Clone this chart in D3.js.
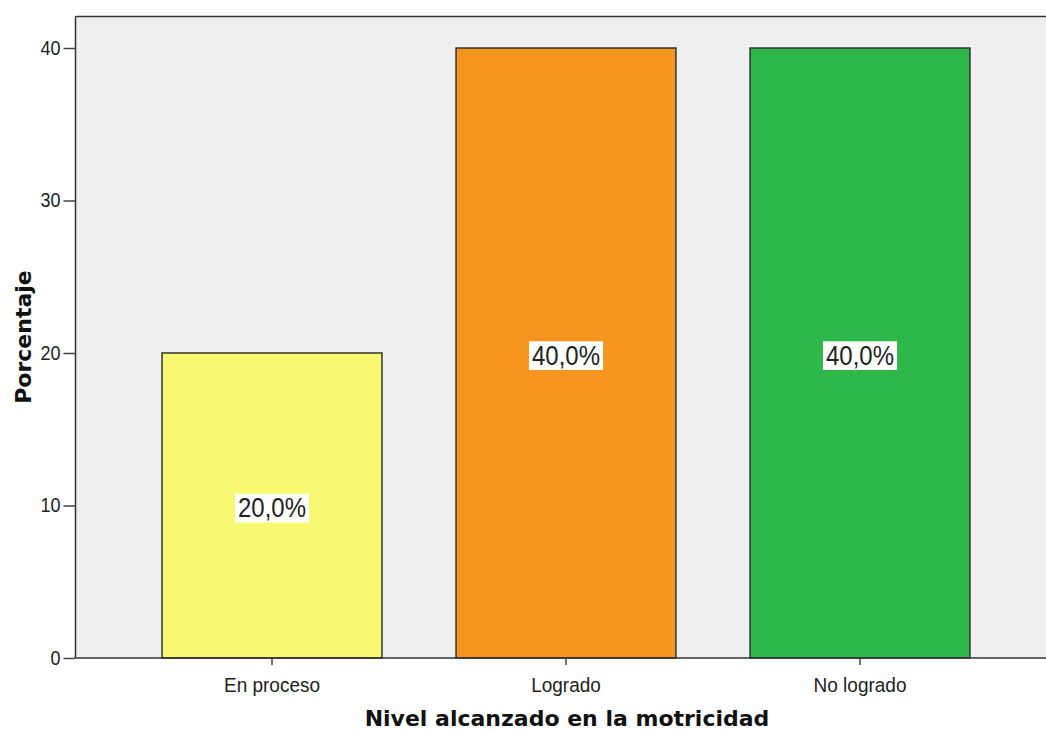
<!DOCTYPE html>
<html>
<head>
<meta charset="utf-8">
<script src="https://cdn.jsdelivr.net/npm/d3@7"></script>
<style>
  html, body { margin: 0; padding: 0; background: #fff; }
  svg { display: block; font-family: Arial, sans-serif; }
</style>
</head>
<body>
<svg id="chart" width="1046" height="731"></svg>
<script>
// Percentage of students by level reached in motor skills
const categories = ["En proceso", "Logrado", "No logrado"];
const percentages = [20, 40, 40];
const valueLabels = ["20,0%", "40,0%", "40,0%"];
const barColors = ["#f9f871", "#f7961f", "#2eb84a"];
const yTicks = [0, 10, 20, 30, 40];

const svg = d3.select("#chart");
const plot = { left: 75.5, top: 16.5, right: 1047, bottom: 658 };
const labelFont = "Arial, sans-serif";
const titleFont = "\"DejaVu Sans\", Verdana, sans-serif";

const y = d3.scaleLinear().domain([0, 40]).range([plot.bottom, 48]);
const x = d3.scaleBand()
  .domain(categories)
  .range([125, 1007])
  .paddingInner(0.252)
  .paddingOuter(0.126);

// Plot background
svg.append("rect")
  .attr("x", plot.left).attr("y", plot.top)
  .attr("width", plot.right - plot.left).attr("height", plot.bottom - plot.top)
  .attr("fill", "#efefef");

// Top frame line
svg.append("line")
  .attr("x1", plot.left).attr("x2", plot.right)
  .attr("y1", plot.top).attr("y2", plot.top)
  .attr("stroke", "#333").attr("stroke-width", 1.5);

// Bars
svg.selectAll("rect.bar")
  .data(categories)
  .enter().append("rect")
  .attr("class", "bar")
  .attr("x", d => x(d))
  .attr("y", (d, i) => y(percentages[i]))
  .attr("width", x.bandwidth())
  .attr("height", (d, i) => y(0) - y(percentages[i]))
  .attr("fill", (d, i) => barColors[i])
  .attr("stroke", "#333")
  .attr("stroke-width", 1.5);

// Value labels on white boxes at mid-height of each bar
const labels = svg.selectAll("g.vlabel")
  .data(categories)
  .enter().append("g")
  .attr("class", "vlabel")
  .attr("transform", (d, i) => `translate(${x(d) + x.bandwidth() / 2},${y(percentages[i] / 2) + 2}) scale(1,1.15)`);

labels.each(function(d, i) {
  const g = d3.select(this);
  const t = g.append("text")
    .attr("text-anchor", "middle")
    .attr("dy", "0.35em")
    .attr("font-size", 24)
    .attr("font-family", labelFont)
    .attr("fill", "#222")
    .text(valueLabels[i]);
  const bb = t.node().getBBox();
  g.insert("rect", "text")
    .attr("x", bb.x - 3).attr("y", bb.y + 1)
    .attr("width", bb.width + 6).attr("height", bb.height - 1)
    .attr("fill", "#fff");
});

// Y axis
const yAxis = d3.axisLeft(y).tickValues(yTicks).tickSize(12).tickPadding(3);
const yg = svg.append("g")
  .attr("transform", `translate(${plot.left},0)`)
  .call(yAxis);
yg.select(".domain").attr("stroke", "#333").attr("stroke-width", 1.5)
  .attr("d", `M0,${plot.top}V${plot.bottom}`);
yg.selectAll(".tick line").attr("stroke", "#444").attr("stroke-width", 1.5);
yg.selectAll(".tick text")
  .attr("font-size", 18).attr("fill", "#222").attr("font-family", labelFont)
  .attr("transform", "translate(-15,0) scale(1,1.15)").attr("x", 0)
  .attr("dy", "0.3em");

// X axis
const xAxis = d3.axisBottom(x).tickSize(7).tickPadding(0);
const xg = svg.append("g")
  .attr("transform", `translate(0,${plot.bottom})`)
  .call(xAxis);
xg.select(".domain").attr("stroke", "#333").attr("stroke-width", 1.5)
  .attr("d", `M${plot.left},0H${plot.right}`);
xg.selectAll(".tick line").attr("stroke", "#444").attr("stroke-width", 1.5);
xg.selectAll(".tick text")
  .attr("font-size", 19).attr("fill", "#222").attr("font-family", labelFont)
  .attr("y", 0).attr("dy", 0)
  .attr("transform", "translate(0,34) scale(1,1.09)");

// Axis titles
svg.append("text")
  .attr("x", 567).attr("y", 726)
  .attr("text-anchor", "middle")
  .attr("font-size", 22).attr("font-weight", "bold").attr("fill", "#111")
  .attr("font-family", titleFont)
  .text("Nivel alcanzado en la motricidad");

svg.append("text")
  .attr("transform", "translate(31,337) rotate(-90)")
  .attr("text-anchor", "middle")
  .attr("font-size", 22).attr("font-weight", "bold").attr("fill", "#111")
  .attr("font-family", titleFont)
  .text("Porcentaje");
</script>
</body>
</html>
